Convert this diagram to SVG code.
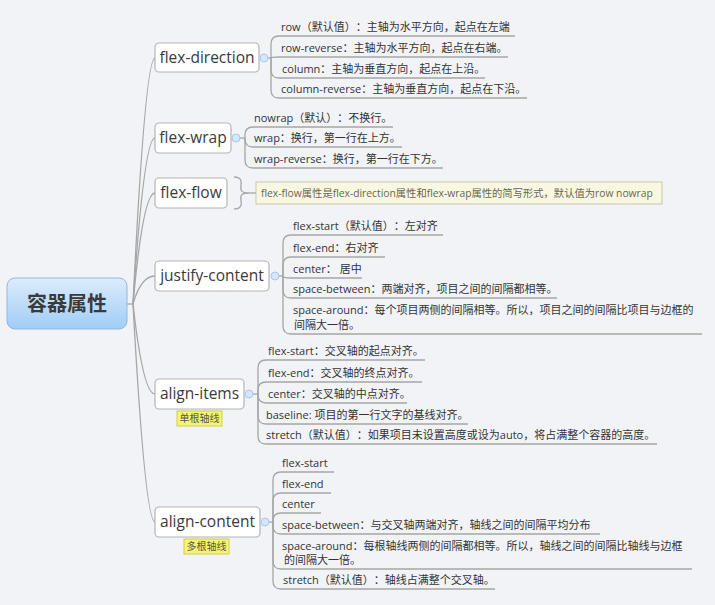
<svg xmlns="http://www.w3.org/2000/svg" width="715" height="605" viewBox="0 0 715 605">
<defs>
<linearGradient id="rootGrad" x1="0" y1="0" x2="0" y2="1">
<stop offset="0" stop-color="#dcecfc"/>
<stop offset="1" stop-color="#9fcdf6"/>
</linearGradient>
<style>
text{font-family:"Open Sans","Noto Sans CJK SC",sans-serif;text-spacing-trim:space-all;font-feature-settings:"halt" 0,"chws" 0;}
.node rect{fill:#ffffff;stroke:#b4b4b4;stroke-width:1.2;}
.ntxt{font-size:15.5px;fill:#3a3a3a;text-anchor:middle;}
.ctxt{font-size:11px;fill:#333333;}
.conn path{fill:none;stroke:#a6a6a6;stroke-width:1.3;}
.dot{fill:#d3e6fa;stroke:#a9c9ec;stroke-width:1;}
.tag rect{fill:#f6f56c;stroke:#cfcc55;stroke-width:1;}
.tag text{font-size:10px;fill:#555;text-anchor:middle;}
</style>
</defs>
<rect x="0" y="0" width="715" height="605" fill="#f2f3f7"/>

<g id="connectors" class="conn">
<path d="M127,304 H133"/>
<path d="M133,304 Q145,58 155,58"/>
<path d="M133,304 Q144,138 155,138"/>
<path d="M133,304 Q143,193 155,193"/>
<path d="M133,304 Q141,276 155,276"/>
<path d="M133,304 Q143,394 155,394"/>
<path d="M133,304 Q145,522 155,522"/>
<path d="M268,58 H271"/>
<path d="M271,58 V44 Q271,36 279,36 H515"/>
<path d="M271,58 Q271,57 279,57 H508"/>
<path d="M271,58 V70 Q271,78 279,78 H485"/>
<path d="M271,58 V90 Q271,98 279,98 H527"/>
<path d="M240,138 H245"/>
<path d="M245,138 V135 Q245,127 253,127 H393"/>
<path d="M245,138 V139 Q245,147 253,147 H402"/>
<path d="M245,138 V160 Q245,168 253,168 H443"/>
<path d="M279,276 H283"/>
<path d="M283,276 V243 Q283,235 291,235 H443"/>
<path d="M283,276 V265 Q283,257 291,257 H385"/>
<path d="M283,276 Q283,278 291,278 H362"/>
<path d="M283,276 V290 Q283,298 291,298 H557"/>
<path d="M283,276 V326 Q283,334 291,334 H702"/>
<path d="M253,394 H258"/>
<path d="M258,394 V368 Q258,360 266,360 H425"/>
<path d="M258,394 V390 Q258,382 266,382 H422"/>
<path d="M258,394 Q258,403 266,403 H407"/>
<path d="M258,394 V416 Q258,424 266,424 H468"/>
<path d="M258,394 V436 Q258,444 266,444 H657"/>
<path d="M269,522 H273"/>
<path d="M273,522 V480 Q273,472 281,472 H334"/>
<path d="M273,522 V501 Q273,493 281,493 H331"/>
<path d="M273,522 V521 Q273,513 281,513 H321"/>
<path d="M273,522 V526 Q273,534 281,534 H600"/>
<path d="M273,522 V561 Q273,569 281,569 H692"/>
<path d="M273,522 V581 Q273,589 281,589 H495"/>
<path d="M234,177 C241,177 242,181 241,186 C240,191 242,193 249,193 C242,193 240,195 241,200 C242,205 241,209 234,209" stroke="#5a5a5a" stroke-width="1.8"/>
<path d="M249,193 H256"/>
</g>

<g id="root">
<rect x="7" y="278" width="120" height="51" rx="8" fill="url(#rootGrad)" stroke="#8fb9e0" stroke-width="1"/>
<text x="67" y="311" font-size="20" font-weight="bold" fill="#3a3a3a" text-anchor="middle">容器属性</text>
</g>

<g id="flex-direction">
<g class="node"><rect x="155" y="43" width="104" height="29" rx="4"/></g>
<text class="ntxt" x="207" y="63">flex-direction</text>
<circle class="dot" cx="264" cy="58" r="4"/>
<text class="ctxt" x="281" y="31">row（默认值）：主轴为水平方向，起点在左端</text>
<text class="ctxt" x="281" y="52">row-reverse：主轴为水平方向，起点在右端。</text>
<text class="ctxt" x="282" y="73">column：主轴为垂直方向，起点在上沿。</text>
<text class="ctxt" x="281" y="93">column-reverse：主轴为垂直方向，起点在下沿。</text>
</g>

<g id="flex-wrap">
<g class="node"><rect x="155" y="123" width="76" height="30" rx="4"/></g>
<text class="ntxt" x="193" y="143">flex-wrap</text>
<circle class="dot" cx="236" cy="138" r="4"/>
<text class="ctxt" x="254" y="122">nowrap（默认）：不换行。</text>
<text class="ctxt" x="254" y="142">wrap：换行，第一行在上方。</text>
<text class="ctxt" x="254" y="163">wrap-reverse：换行，第一行在下方。</text>
</g>

<g id="flex-flow">
<g class="node"><rect x="155" y="178" width="72" height="30" rx="4"/></g>
<text class="ntxt" x="191" y="198">flex-flow</text>
<rect x="256" y="182" width="406" height="22" fill="#f8f8e2" stroke="#c9c9a6" stroke-width="1"/>
<text x="261" y="197" font-size="10.3" fill="#666655">flex-flow属性是flex-direction属性和flex-wrap属性的简写形式，默认值为row nowrap</text>
</g>

<g id="justify-content">
<g class="node"><rect x="155" y="261" width="114" height="30" rx="4"/></g>
<text class="ntxt" x="212" y="281">justify-content</text>
<circle class="dot" cx="275" cy="276" r="4"/>
<text class="ctxt" x="293" y="230">flex-start（默认值）：左对齐</text>
<text class="ctxt" x="293" y="252">flex-end：右对齐</text>
<text class="ctxt" x="293" y="273">center： 居中</text>
<text class="ctxt" x="293" y="293">space-between：两端对齐，项目之间的间隔都相等。</text>
<text class="ctxt" x="293" y="314">space-around：每个项目两侧的间隔相等。所以，项目之间的间隔比项目与边框的</text>
<text class="ctxt" x="294" y="329">间隔大一倍。</text>
</g>

<g id="align-items">
<g class="node"><rect x="155" y="379" width="89" height="30" rx="4"/></g>
<text class="ntxt" x="199.5" y="399">align-items</text>
<circle class="dot" cx="249" cy="394" r="4"/>
<g class="tag"><rect x="177" y="411" width="45" height="15"/><text x="199.5" y="422">单根轴线</text></g>
<text class="ctxt" x="268" y="355">flex-start：交叉轴的起点对齐。</text>
<text class="ctxt" x="268" y="377">flex-end：交叉轴的终点对齐。</text>
<text class="ctxt" x="268" y="398">center：交叉轴的中点对齐。</text>
<text class="ctxt" x="266" y="419">baseline: 项目的第一行文字的基线对齐。</text>
<text class="ctxt" x="266" y="439">stretch（默认值）：如果项目未设置高度或设为auto，将占满整个容器的高度。</text>
</g>

<g id="align-content">
<g class="node"><rect x="155" y="507" width="105" height="30" rx="4"/></g>
<text class="ntxt" x="207.5" y="527">align-content</text>
<circle class="dot" cx="265" cy="522" r="4"/>
<g class="tag"><rect x="184" y="539" width="45" height="15"/><text x="206.5" y="550">多根轴线</text></g>
<text class="ctxt" x="282" y="467">flex-start</text>
<text class="ctxt" x="282" y="488">flex-end</text>
<text class="ctxt" x="282" y="508">center</text>
<text class="ctxt" x="282" y="529">space-between：与交叉轴两端对齐，轴线之间的间隔平均分布</text>
<text class="ctxt" x="282" y="550">space-around：每根轴线两侧的间隔都相等。所以，轴线之间的间隔比轴线与边框</text>
<text class="ctxt" x="284" y="564">的间隔大一倍。</text>
<text class="ctxt" x="283" y="584">stretch（默认值）：轴线占满整个交叉轴。</text>
</g>
</svg>
